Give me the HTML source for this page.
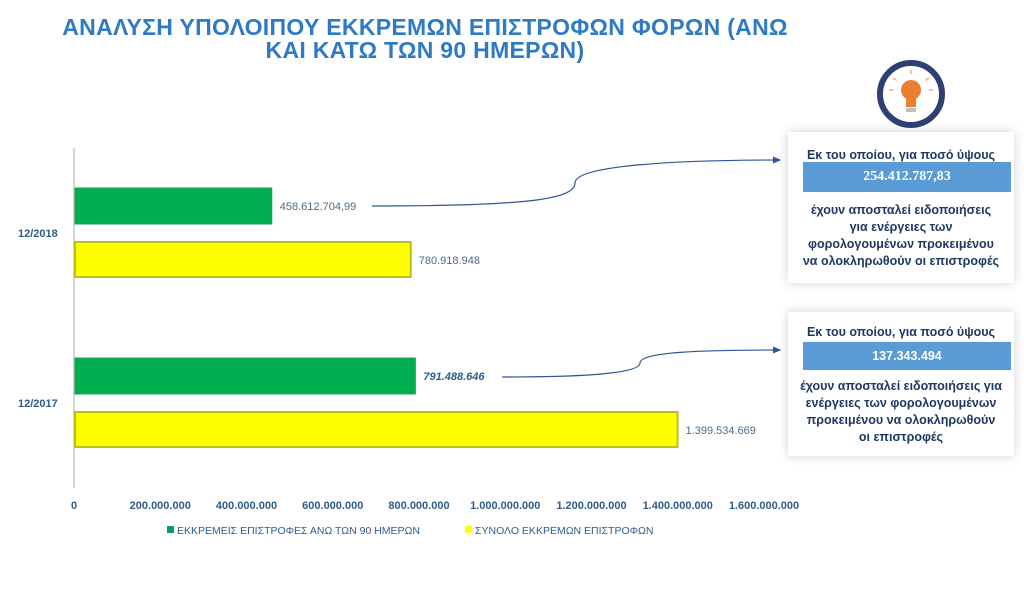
<!DOCTYPE html>
<html><head><meta charset="utf-8"><style>
body{margin:0;background:#fff;font-family:"Liberation Sans",sans-serif;}
#wrap{position:relative;width:1024px;height:602px;overflow:hidden;background:#fff}
.title{position:absolute;left:20px;width:810px;top:16px;text-align:center;color:#2e7bc4;font-weight:bold;font-size:23px;line-height:23px;letter-spacing:0.3px}
.box{position:absolute;background:#fff;box-shadow:0 0 10px rgba(0,0,0,0.18);text-align:center;color:#1f3864;font-weight:bold;font-size:12.5px;line-height:17px}
.band{position:absolute;background:#5b9bd5;color:#fff;font-family:"Liberation Serif",serif;font-size:14px;line-height:30px;text-align:center}
</style></head><body><div id="wrap">
<div class="title">ΑΝΑΛΥΣΗ ΥΠΟΛΟΙΠΟΥ ΕΚΚΡΕΜΩΝ ΕΠΙΣΤΡΟΦΩΝ ΦΟΡΩΝ (ΑΝΩ<br>ΚΑΙ ΚΑΤΩ ΤΩΝ 90 ΗΜΕΡΩΝ)</div>
<svg id="chart" width="1024" height="602" style="position:absolute;left:0;top:0"></svg>
<div class="box" style="left:788px;top:132px;width:226px;height:151px">
<div style="margin-top:15px">Εκ του οποίου, για ποσό ύψους</div>
<div class="band" style="left:15px;top:30px;width:208px;height:30px">254.412.787,83</div>
<div style="position:absolute;top:70px;left:0;width:226px">έχουν αποσταλεί ειδοποιήσεις<br>για ενέργειες των<br>φορολογουμένων προκειμένου<br>να ολοκληρωθούν οι επιστροφές</div></div>
<div class="box" style="left:788px;top:312px;width:226px;height:144px">
<div style="margin-top:12px">Εκ του οποίου, για ποσό ύψους</div>
<div class="band" style="left:15px;top:30px;width:208px;height:28px;line-height:28px;font-family:'Liberation Sans',sans-serif;font-weight:bold;font-size:12.5px">137.343.494</div>
<div style="position:absolute;top:66px;left:0;width:226px">έχουν αποσταλεί ειδοποιήσεις για<br>ενέργειες των φορολογουμένων<br>προκειμένου να ολοκληρωθούν<br>οι επιστροφές</div></div>
</div>
<script>
const categories=["12/2018","12/2017"];
const overValues=[458612704.99,791488646];
const totalValues=[780918948,1399534669];
const overLabels=["458.612.704,99","791.488.646"];
const totalLabels=["780.918.948","1.399.534.669"];
const ticks=[0,200000000,400000000,600000000,800000000,1000000000,1200000000,1400000000,1600000000];
const tickLabels=["0","200.000.000","400.000.000","600.000.000","800.000.000","1.000.000.000","1.200.000.000","1.400.000.000","1.600.000.000"];
const NS="http://www.w3.org/2000/svg";
const svg=document.getElementById('chart');
const x=v=>74+v*(690/1600000000);
const catY=[188,358];
function mk(t,a,p){const e=document.createElementNS(NS,t);for(const k in a)e.setAttribute(k,a[k]);(p||svg).appendChild(e);return e;}
const ax=mk('line',{x1:74,y1:148,x2:74,y2:488,stroke:'#c8c8c8','stroke-width':1.5});


ticks.forEach((t,i)=>{const e=mk('text',{x:x(t),y:509,'text-anchor':'middle','font-size':11,'font-weight':'bold',fill:'#2e5c8a','font-family':'Liberation Sans,sans-serif'});e.textContent=tickLabels[i];

});
categories.forEach((c,i)=>{const y0=catY[i];
const l=mk('text',{x:18,y:y0+49,'font-size':11,'font-weight':'bold',fill:'#2e5c8a','font-family':'Liberation Sans,sans-serif'});l.textContent=c;


const g=mk('rect',{x:75,y:y0,width:x(overValues[i])-75,height:36,fill:'#00b050',stroke:'#1f9b55','stroke-width':1});


const yb=mk('rect',{x:75,y:y0+54,width:x(totalValues[i])-75,height:35,fill:'#ffff00',stroke:'#b5c21a','stroke-width':2});


const gl=mk('text',{x:x(overValues[i])+8,y:y0+22,'font-size':11,fill:i?'#2e5c8a':'#4a6a8a','font-style':i?'italic':'normal','font-weight':i?'bold':'normal','font-family':'Liberation Sans,sans-serif'});gl.textContent=overLabels[i];


const tl=mk('text',{x:x(totalValues[i])+8,y:y0+76,'font-size':11,fill:'#4a6a8a','font-family':'Liberation Sans,sans-serif'});tl.textContent=totalLabels[i];

});
const defs=mk('defs',{});const m=mk('marker',{id:'ar',markerWidth:8,markerHeight:8,refX:6,refY:4,orient:'auto'},defs);mk('path',{d:'M0,1 L7,4 L0,7 z',fill:'#2f5597'},m);
const c1=mk('path',{d:'M372,206 C520,206 575,200 575,183 C575,165 680,160 780,160',fill:'none',stroke:'#2f5597','stroke-width':1.2,'marker-end':'url(#ar)'});


const c2=mk('path',{d:'M502,377 C580,377 640,374 640,363 C640,352 700,350 780,350',fill:'none',stroke:'#2f5597','stroke-width':1.2,'marker-end':'url(#ar)'});


const ic=mk('g',{});


mk('circle',{cx:911,cy:94,r:31,fill:'#fff',stroke:'#2f3f73','stroke-width':6},ic);
mk('circle',{cx:911,cy:90,r:10,fill:'#ed7d31'},ic);
mk('rect',{x:906,y:99,width:10,height:8,fill:'#ed7d31'},ic);
mk('rect',{x:906,y:108,width:10,height:4,fill:'#bfbfbf'},ic);
[[-18,-12],[18,-12],[0,-20],[-22,0],[22,0]].forEach(d=>mk('line',{x1:911+d[0]*0.8,y1:90+d[1]*0.8,x2:911+d[0],y2:90+d[1],stroke:'#f4b183','stroke-width':1.5},ic));
const lg=[['#00a060','ΕΚΚΡΕΜΕΙΣ ΕΠΙΣΤΡΟΦΕΣ ΑΝΩ ΤΩΝ 90 ΗΜΕΡΩΝ',167],['#ffff00','ΣΥΝΟΛΟ ΕΚΚΡΕΜΩΝ ΕΠΙΣΤΡΟΦΩΝ',465]];
lg.forEach(l=>{const r=mk('rect',{x:l[2],y:526,width:7,height:7,fill:l[0]});


const t=mk('text',{x:l[2]+10,y:534,'font-size':10.5,fill:'#2e5c8a','font-family':'Liberation Sans,sans-serif'});t.textContent=l[1];

});
</script></body></html>
